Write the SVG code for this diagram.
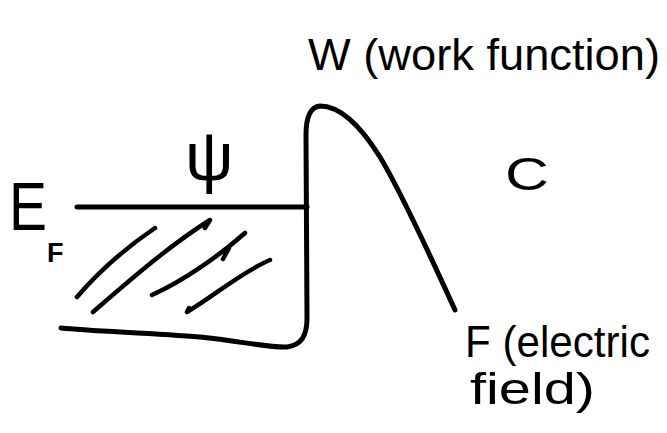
<svg xmlns="http://www.w3.org/2000/svg" width="667" height="433" viewBox="0 0 667 433">
<style>
.ln{fill:none;stroke:#000;stroke-width:5;stroke-linecap:round;stroke-linejoin:round}
.hl{fill:none;stroke:#000;stroke-width:4.5;stroke-linecap:round;stroke-linejoin:round}
text{font-family:"Liberation Sans","DejaVu Sans",sans-serif;fill:#000}
</style>
<rect width="667" height="433" fill="#fff"/>
<g id="potential">
<path class="ln" d="M61,328 C90,331 150,333 200,337 C240,341 270,348 287,347 C302,345 307,335 307,318 L306,135 C306,118 310,107 320,106 C340,106 360,125 380,157 C400,190 430,255 455,310"/>
<path class="ln" d="M77,207 L307,207"/>
</g>
<g id="hatching">
<path class="hl" d="M77,297 C100,270 130,245 155,228"/>
<path class="hl" d="M93,312 C130,280 170,245 210,220 L205,228"/>
<path class="hl" d="M152,295 C185,280 220,255 245,233 M229,248 L223,259"/>
<path class="hl" d="M189,308 L187,312 C215,295 245,270 270,260"/>
</g>
<g id="labels">
<text x="308" y="70" font-size="44" textLength="352" lengthAdjust="spacingAndGlyphs">W (work function)</text>
<text x="185" y="180" font-size="68" font-family="DejaVu Sans">ψ</text>
<text x="505" y="190" font-size="46" textLength="44" lengthAdjust="spacingAndGlyphs">C</text>
<text x="9" y="230" font-size="68" textLength="38" lengthAdjust="spacingAndGlyphs">E</text>
<text x="47" y="262" font-size="27" font-weight="bold">F</text>
<text x="465" y="357" font-size="44" textLength="185" lengthAdjust="spacingAndGlyphs">F (electric</text>
<text x="470" y="404" font-size="44" textLength="125" lengthAdjust="spacingAndGlyphs">field)</text>
</g>
</svg>
